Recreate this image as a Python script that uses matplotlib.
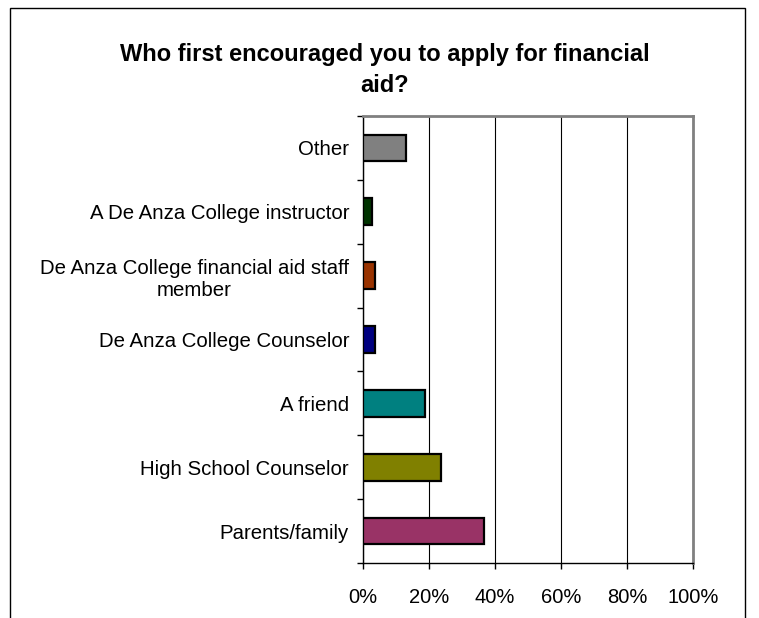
import matplotlib
matplotlib.use('Agg')

import matplotlib.pyplot as plt
from matplotlib.patches import Rectangle
from matplotlib.ticker import FixedLocator, PercentFormatter
import numpy as np

plt.rcParams['font.family'] = ['Liberation Sans', 'DejaVu Sans']

# data, bottom to top
categories = ['Parents/family', 'High School Counselor', 'A friend',
              'De Anza College Counselor',
              'De Anza College financial aid staff\nmember',
              'A De Anza College instructor', 'Other']
values = [36.8, 23.5, 18.9, 3.6, 3.5, 2.8, 12.9]
colors = ['#993366', '#808000', '#008080', '#000080', '#993300', '#003300', '#808080']
xticks = [0, 20, 40, 60, 80, 100]

W, H = 759, 618
fig = plt.figure(figsize=(W / 100, H / 100), dpi=100)

# outer chart frame (runs off the bottom of the image)
fig.patches.append(Rectangle((10 / W, -0.05), 735 / W, 1.05 - 8 / H,
                             transform=fig.transFigure, fill=False,
                             edgecolor='black', linewidth=1))

ax = fig.add_axes([363 / W, 1 - 563 / H, 330 / W, 447 / H])
y = np.arange(len(categories))
ax.barh(y, values, height=0.42, color=colors, edgecolor='black',
        linewidth=1.6, zorder=3)

ax.set_xlim(0, 100)
ax.set_ylim(-0.5, len(categories) - 0.5)
ax.set_xticks(xticks)
ax.xaxis.set_major_formatter(PercentFormatter(decimals=0))
ax.grid(axis='x', color='black', linewidth=0.8, zorder=1)

ax.set_yticks(y)
ax.set_yticklabels(categories, ha='right', multialignment='center')
ax.yaxis.set_minor_locator(FixedLocator(np.arange(-0.5, len(categories), 1)))
ax.tick_params(axis='y', which='major', length=0, pad=10, labelsize=14.7)
ax.tick_params(axis='y', which='minor', length=4, width=1, direction='out')
ax.tick_params(axis='x', length=4, width=1, direction='out', pad=14, labelsize=14.5)

for side in ['top', 'right']:
    ax.spines[side].set_color('#808080')
    ax.spines[side].set_linewidth(2)
for side in ['left', 'bottom']:
    ax.spines[side].set_color('black')
    ax.spines[side].set_linewidth(1)

fig.text(385 / W, 1 - 70 / H,
         'Who first encouraged you to apply for financial\naid?',
         ha='center', va='center', fontsize=17, fontweight='bold',
         linespacing=1.4)

fig.savefig('out.png', dpi=100)
